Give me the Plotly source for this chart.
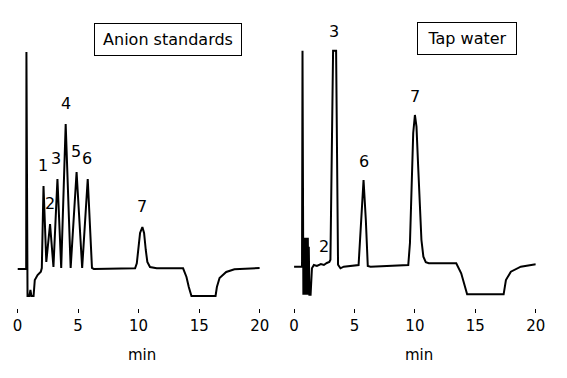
import plotly.graph_objects as go

# ---- Anion standards chromatogram (time in min, signal in arbitrary units)
std_time = [0, 0.70, 0.72, 0.74, 0.77, 0.80, 0.83, 0.98, 1.07, 1.15, 1.33, 1.43, 1.66, 1.93,
            2.01, 2.15, 2.38, 2.69, 2.97, 3.30, 3.61, 3.98, 4.39, 4.88, 5.34, 5.80, 6.15, 6.30,
            9.71, 9.85, 9.98, 10.12, 10.31, 10.45, 10.59, 10.72, 10.94, 11.49,
            13.67, 13.95, 14.14, 14.36, 16.35, 16.46, 16.68, 17.23, 17.91, 20.0]
std_signal = [0, 0, 0, 217, -27, 217, -27, -27, -21, -27, -27, -11, -6, -2.7,
              1, 83, 7, 45, 2, 90, 1, 145, 1, 97, 1, 90, 1, 0,
              0.7, 5.7, 22, 36, 42, 36, 19, 7, 2, 0.7,
              0.7, -8, -18, -27, -27, -18, -9, -3, -0.3, 1]

# ---- Tap water chromatogram
tap_time = [0, 0.66, 0.70, 0.72, 0.74, 0.77, 0.82, 0.86, 0.90, 0.94, 0.98, 1.02, 1.06, 1.10,
            1.14, 1.18, 1.22, 1.27, 1.37, 1.48, 1.64, 1.89, 2.22, 2.47, 2.71, 2.92,
            3.01, 3.23, 3.48, 3.64, 3.84, 4.11, 5.34, 5.48, 5.75, 5.94, 6.10, 6.33,
            9.45, 9.59, 9.72, 9.86, 10.0, 10.13, 10.27, 10.41, 10.54, 10.70, 10.90, 11.15,
            13.42, 13.83, 14.11, 14.32, 17.34, 17.53, 17.94, 18.76, 20.0]
tap_signal = [0, 0, 216, -28, 216, -28, 29, -28, 29, -28, 29, -28, 29, -28,
              29, -28, 20, -28, -28, -1.5, 1.7, 0.7, 2.7, 1.7, 3.7, 4.7,
              7, 216, 216, 2, -1.6, 0, 1.7, 30, 86.7, 46.7, 0.7, 0,
              1.7, 23.7, 83.7, 133.7, 151.7, 140, 100, 56.7, 26.7, 10, 4.5, 3.4,
              3.4, -6.6, -20, -27.6, -27.6, -13.3, -5, 0, 2.4]

# ---- Peak labels
std_labels = ["1", "2", "3", "4", "5", "6", "7"]
std_label_time = [2.07, 2.68, 3.21, 3.98, 4.82, 5.78, 10.29]
std_label_height = [83, 45, 90, 145, 97, 90, 42]

tap_labels = ["2", "3", "6", "7"]
tap_label_time = [2.47, 3.34, 5.75, 10.0]
tap_label_height = [1, 216, 86.7, 151.7]

panel_titles = ["Anion standards", "Tap water"]
tick_values = [0, 5, 10, 15, 20]
axis_label = "min"

FONT = "DejaVu Sans"
W, H = 567, 378

fig = go.Figure()
fig.add_trace(go.Scatter(x=std_time, y=std_signal, mode="lines",
                         line=dict(color="black", width=2), xaxis="x", yaxis="y",
                         showlegend=False, hoverinfo="skip"))
fig.add_trace(go.Scatter(x=tap_time, y=tap_signal, mode="lines",
                         line=dict(color="black", width=2), xaxis="x2", yaxis="y2",
                         showlegend=False, hoverinfo="skip"))

annotations = []
for lab, t, h in zip(std_labels, std_label_time, std_label_height):
    annotations.append(dict(x=t, y=h, xref="x", yref="y", text=lab, showarrow=False,
                            yanchor="middle", yshift=21,
                            font=dict(family=FONT, size=16, color="black")))
for lab, t, h in zip(tap_labels, tap_label_time, tap_label_height):
    annotations.append(dict(x=t, y=h, xref="x2", yref="y2", text=lab, showarrow=False,
                            yanchor="middle", yshift=19,
                            font=dict(family=FONT, size=16, color="black")))

# boxed panel titles
annotations.append(dict(x=167.3 / W, y=1 - 39.7 / H, xref="paper", yref="paper",
                        text=panel_titles[0], showarrow=False, xanchor="center", yanchor="middle",
                        width=146, height=31, borderpad=0, bordercolor="black", borderwidth=1,
                        font=dict(family=FONT, size=16, color="black")))
annotations.append(dict(x=474.8 / W, y=1 - 38.9 / H, xref="paper", yref="paper",
                        text=panel_titles[1], showarrow=False, xanchor="center", yanchor="middle",
                        width=98, height=31, borderpad=0, bordercolor="black", borderwidth=1,
                        font=dict(family=FONT, size=16, color="black")))

# "min" axis labels
for xr in ["x", "x2"]:
    annotations.append(dict(x=10.3, y=1 - 355 / H, xref=xr, yref="paper", text=axis_label,
                            showarrow=False, xanchor="center", yanchor="middle",
                            font=dict(family=FONT, size=15, color="black")))

xaxis_common = dict(range=[0, 20], showgrid=False, zeroline=False, showline=False,
                    ticks="outside", ticklen=4, tickwidth=1, tickcolor="black",
                    tickvals=tick_values, ticktext=[str(v) for v in tick_values],
                    tickfont=dict(family=FONT, size=15, color="black"), fixedrange=True)
yaxis_common = dict(visible=False, showgrid=False, zeroline=False, fixedrange=True)

ydom = [1 - 308 / H, 1 - 20 / H]
fig.update_layout(
    width=W, height=H, autosize=False,
    margin=dict(l=0, r=0, t=0, b=0),
    paper_bgcolor="white", plot_bgcolor="white",
    xaxis=dict(domain=[12.8 / W, 261.7 / W], anchor="y", **xaxis_common),
    xaxis2=dict(domain=[296.9 / W, 545.2 / W], anchor="y2", **xaxis_common),
    yaxis=dict(domain=ydom, range=[-39, 249], anchor="x", **yaxis_common),
    yaxis2=dict(domain=ydom, range=[-41.3, 246.7], anchor="x2", **yaxis_common),
    annotations=annotations,
    showlegend=False,
)

fig.write_html("out.html", config={"displayModeBar": False},
               post_script="document.body.style.margin='0';document.body.style.padding='0';"
                           "document.documentElement.style.overflow='hidden';")
